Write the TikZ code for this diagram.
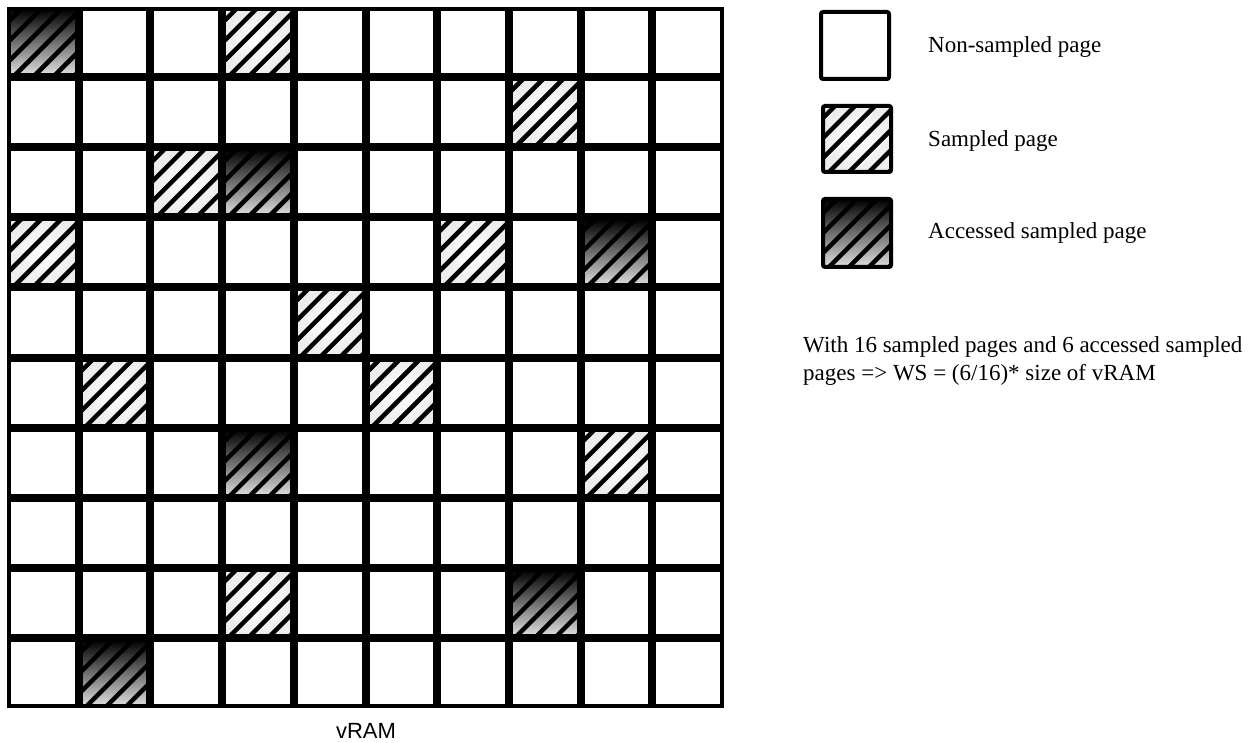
\documentclass[tikz,border=0pt]{standalone}
\usepackage{fontspec}
\setmainfont{Liberation Serif}
\newfontfamily\arialfont{Liberation Sans}
\def\markS#1#2{\expandafter\def\csname kindT#1-#2\endcsname{sampled}}
\def\markA#1#2{\expandafter\def\csname kindT#1-#2\endcsname{accessed}}
% sampled pages
\markS03 \markS17 \markS22 \markS30 \markS36 \markS44 \markS51 \markS55 \markS68 \markS83
% accessed sampled pages
\markA00 \markA23 \markA38 \markA63 \markA87 \markA91
\tikzset{
  cell/.style={draw=black, fill=white, line width=4pt, minimum width=67.7pt, minimum height=66.1pt,
    inner sep=0pt, outer sep=0pt, anchor=north west},
  plain/.style={cell},
  sampled/.style={cell, path picture={
      \shade[inner color=white, outer color=gray!15]
        (path picture bounding box.south west) rectangle (path picture bounding box.north east);
      \foreach \k in {-4,...,3}{
        \draw[line width=4.5pt,black] ([xshift=\k*20pt+6pt]path picture bounding box.south west) -- ++(100pt,100pt);}
    }},
  accessed/.style={cell, path picture={
      \shade[top color=black, middle color=black!90, bottom color=gray!25]
        (path picture bounding box.south west) rectangle (path picture bounding box.north east);
      \foreach \k in {-4,...,3}{
        \draw[line width=4.5pt,black] ([xshift=\k*20pt+6pt]path picture bounding box.south west) -- ++(100pt,100pt);}
    }},
  kind/.code={\ifcsname kindT#1\endcsname
      \edef\kindtmp{\csname kindT#1\endcsname}\expandafter\pgfkeysalso\expandafter{\kindtmp}%
    \else\pgfkeysalso{plain}\fi},
  legendtxt/.style={anchor=base west, inner sep=0pt, font=\fontsize{23}{27}\selectfont},
  notetxt/.style={anchor=base west, inner sep=0pt, align=left, font=\fontsize{23}{28}\selectfont},
}
\begin{document}
\begin{tikzpicture}[x=1pt,y=-1pt]
\useasboundingbox (0,0) rectangle (1252,743);
% memory grid
\foreach \row in {0,...,9}{
  \foreach \col in {0,...,9}{
    \node[kind=\row-\col] (c\row\col) at ({9+\col*71.7},{9+\row*70.1}) {};
  }
}
\node[anchor=base, inner sep=0pt, font=\arialfont\fontsize{22}{26}\selectfont] (vram) at (366,738) {vRAM};
% legend
\node[plain, rounded corners=2pt, minimum width=68pt, minimum height=67pt] (lg1) at (821,12) {};
\node[sampled, rounded corners=2pt, minimum width=68pt, minimum height=66pt] (lg2) at (823,106) {};
\node[accessed, rounded corners=2pt, minimum width=68pt, minimum height=68pt] (lg3) at (823,199) {};
\node[legendtxt] (t1) at (928,53) {Non-sampled page};
\node[legendtxt] (t2) at (928,147) {Sampled page};
\node[legendtxt] (t3) at (928,239) {Accessed sampled page};
\node[notetxt] (note) at (803,380) {With 16 sampled pages and 6 accessed sampled\\pages => WS = (6/16)* size of vRAM};
\end{tikzpicture}
\end{document}
